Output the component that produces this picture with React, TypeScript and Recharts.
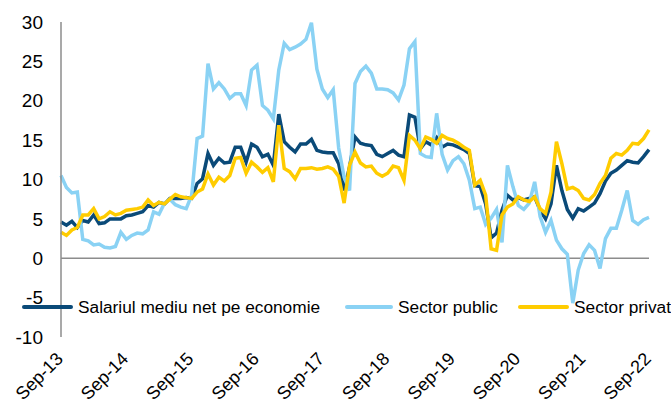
import { Legend, Line, LineChart, ReferenceLine, XAxis, YAxis } from 'recharts';

const monthNames = ['Sep', 'Oct', 'Nov', 'Dec', 'Jan', 'Feb', 'Mar', 'Apr', 'May', 'Jun', 'Jul', 'Aug'];
const startYear = 13;
const monthCount = 109;

const yTicks = [-10, -5, 0, 5, 10, 15, 20, 25, 30];

// Salariul mediu net pe economie
const national = [
  4.6, 4.2, 4.7, 3.9, 4.8, 4.6, 5.5, 4.4, 4.5, 5.0, 5.0, 5.0,
  5.4, 5.5, 5.7, 5.9, 6.7, 6.5, 7.1, 6.9, 7.6, 7.6, 7.6, 7.7,
  7.6, 9.5, 10.1, 13.3, 11.8, 12.7, 12.1, 12.2, 14.1, 14.1, 12.2, 14.5,
  14.1, 12.9, 13.2, 11.8, 18.3, 14.8, 14.1, 13.5, 14.5, 14.5, 15.1, 13.7,
  13.5, 13.4, 13.4, 12.0, 8.6, 11.6, 15.4, 14.6, 14.4, 14.3, 13.2, 12.9,
  13.3, 13.7, 13.1, 12.9, 18.2, 17.9, 13.9, 14.8, 14.4, 15.3, 14.1, 14.5,
  14.4, 14.1, 13.8, 13.3, 9.2, 9.1, 6.9, 2.6, 3.2, 6.1, 8.0, 7.4,
  7.7, 7.4, 7.6, 7.8, 6.1, 5.0, 6.9, 11.8, 8.6, 6.2, 5.1, 6.3,
  6.0, 6.5, 7.0, 8.2, 9.8, 10.8, 11.2, 11.8, 12.4, 12.2, 12.1, 12.9, 13.8,
];

// Sector public
const publicSector = [
  10.5, 9.0, 8.3, 8.4, 2.4, 2.2, 1.7, 1.8, 1.4, 1.3, 1.5, 3.3,
  2.4, 2.9, 3.2, 3.1, 3.6, 5.9, 5.6, 7.0, 7.5, 6.8, 6.5, 6.3,
  8.0, 15.2, 15.5, 24.7, 21.5, 22.3, 21.5, 20.3, 20.9, 20.9, 19.4, 23.9,
  24.5, 19.4, 18.8, 17.7, 23.9, 27.3, 26.5, 26.8, 27.2, 27.8, 29.9, 24.0,
  21.5, 20.4, 21.4, 14.0, 10.3, 8.6, 22.2, 23.7, 24.4, 23.5, 21.5, 21.5,
  21.4, 21.0, 20.1, 22.0, 26.6, 27.5, 13.3, 12.9, 12.8, 18.4, 13.2, 11.2,
  12.4, 12.9, 12.0, 9.9, 6.3, 6.5, 4.3, 5.1, 6.2, 2.0, 11.8, 9.1,
  6.7, 6.2, 7.0, 9.7, 5.3, 3.3, 4.8, 2.3, 1.2, 0.5, -5.7, -1.5,
  0.6, 1.7, 1.0, -1.3, 2.5, 3.8, 3.8, 6.1, 8.6, 4.8, 4.3, 4.9, 5.2,
];

// Sector privat
const privateSector = [
  3.3, 2.9, 3.6, 3.9, 5.5, 5.5, 6.3, 5.0, 5.3, 5.9, 5.5, 5.7,
  6.1, 6.2, 6.3, 6.5, 7.4, 6.7, 7.1, 6.9, 7.5, 8.1, 7.8, 7.7,
  7.6, 8.4, 8.8, 10.7, 9.3, 10.3, 9.8, 10.5, 12.7, 12.8, 10.8, 12.2,
  11.6, 10.9, 11.5, 9.7, 16.9, 11.4, 11.0, 10.1, 11.4, 11.4, 11.5, 11.3,
  11.4, 11.6, 11.3, 10.4, 7.0, 11.8, 13.5, 12.1, 11.6, 11.7, 10.8, 10.4,
  10.8, 11.7, 11.5, 9.9, 15.6, 15.0, 13.9, 15.4, 15.1, 14.6, 15.6, 15.2,
  15.0, 14.6, 14.1, 13.7, 9.3, 9.9, 8.0, 1.2, 1.0, 5.5, 6.5, 6.9,
  7.8, 7.4, 7.2, 7.8, 6.3, 5.7, 8.4, 14.8, 12.0, 8.8, 9.0, 8.6,
  7.6, 7.4, 8.1, 9.5, 10.5, 12.7, 13.3, 13.1, 13.7, 14.6, 14.5, 15.2, 16.3,
];

const categories: string[] = [];
for (let i = 0; i < monthCount; i++) {
  const yr = startYear + Math.floor((i + 8) / 12);
  categories.push(`${monthNames[i % 12]}-${yr}`);
}

const data = categories.map((m, i) => ({
  month: m,
  national: national[i],
  publicSector: publicSector[i],
  privateSector: privateSector[i],
}));

const FONT = 'Arial, "Liberation Sans", sans-serif';
const legendOrder = ['national', 'publicSector', 'privateSector'];
const legendLeft = [22, 345, 518];
const legendLineW = [51, 48, 51];

function XTick(props: any) {
  const { x, y, payload } = props;
  const ax = x + 3;
  const ay = y + 15;
  return (
    <text x={ax} y={ay} textAnchor="end" fontSize={18} fill="#000" fontFamily={FONT}
      transform={`rotate(-45, ${ax}, ${ay})`}>
      {payload.value}
    </text>
  );
}

function LegendBox({ payload }: any) {
  const items = [...(payload || [])].sort(
    (a: any, b: any) => legendOrder.indexOf(a.dataKey) - legendOrder.indexOf(b.dataKey)
  );
  return (
    <div style={{ position: 'relative', height: 24, fontFamily: FONT, fontSize: 17.3, color: '#000' }}>
      {items.map((p: any, k: number) => (
        <div key={p.value} style={{ position: 'absolute', left: legendLeft[k], top: 0, display: 'flex', alignItems: 'center', whiteSpace: 'nowrap', height: 24 }}>
          <span style={{ display: 'inline-block', width: legendLineW[k], height: 4, background: p.color, borderRadius: 2, marginRight: 5 }} />
          <span>{p.value}</span>
        </div>
      ))}
    </div>
  );
}

export default function App() {
  return (
    <div style={{ position: 'absolute', left: 0, top: 0, width: 671, height: 407, background: '#fff', overflow: 'hidden' }}>
      <LineChart width={671} height={407} data={data} margin={{ top: 22, right: 22, bottom: 10, left: 11 }}>
        <XAxis dataKey="month" interval={11} axisLine={false} tickLine={false} tick={<XTick />} height={60} />
        <YAxis domain={[-10, 30]} ticks={yTicks} width={50} axisLine={{ stroke: '#8c8c8c', strokeWidth: 1.5 }} tickLine={false}
          tickMargin={12} tick={{ fontSize: 19, fill: '#000', fontFamily: FONT }} interval={0} />
        <ReferenceLine y={0} stroke="#8c8c8c" strokeWidth={1.5} />
        <Legend layout="horizontal" verticalAlign="middle" align="center" content={<LegendBox />}
          wrapperStyle={{ top: 295, left: 0, width: 671 }} />
        <Line type="linear" dataKey="national" name="Salariul mediu net pe economie" stroke="#0A4A78" strokeWidth={3.5} dot={false} isAnimationActive={false} />
        <Line type="linear" dataKey="publicSector" name="Sector public" stroke="#8AD2F4" strokeWidth={3.5} dot={false} isAnimationActive={false} />
        <Line type="linear" dataKey="privateSector" name="Sector privat" stroke="#FFCC00" strokeWidth={3.5} dot={false} isAnimationActive={false} />
      </LineChart>
    </div>
  );
}
